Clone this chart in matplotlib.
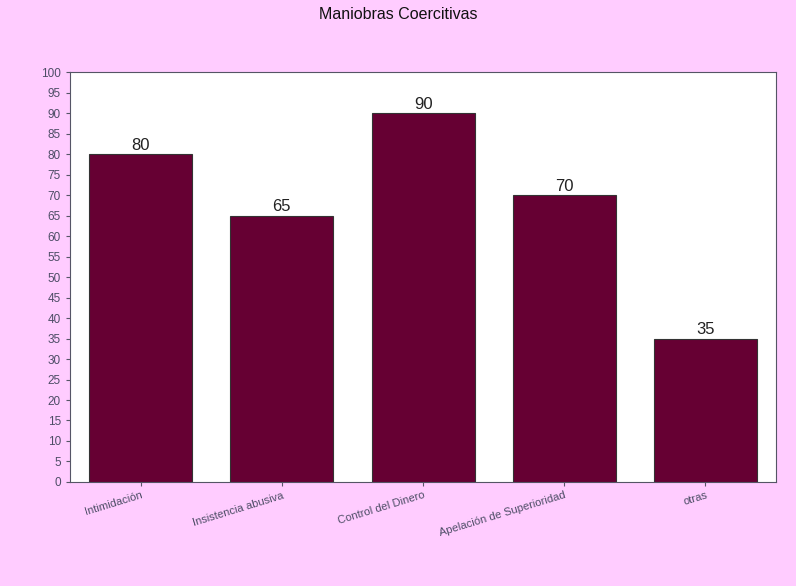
import matplotlib
matplotlib.use("Agg")
import matplotlib.pyplot as plt

categories = ["Intimidación", "Insistencia abusiva", "Control del Dinero",
              "Apelación de Superioridad", "otras"]
values = [80, 65, 90, 70, 35]
yticks = list(range(0, 101, 5))

plt.rcParams['font.family'] = ['Liberation Sans', 'DejaVu Sans']

bg = "#FFCCFF"
fig = plt.figure(figsize=(7.96, 5.86), dpi=100, facecolor=bg)
ax = fig.add_axes([0.088, 0.1775, 0.887, 0.6995])
ax.set_facecolor("white")

x = list(range(len(categories)))
bars = ax.bar(x, values, width=0.73, color="#660033", edgecolor="#333333", linewidth=0.8)
for xi, v in zip(x, values):
    ax.text(xi, v + 0.3, str(v), ha="center", va="bottom", fontsize=12, color="#222222")

ax.set_xlim(-0.5, 4.5)
ax.set_ylim(0, 100)
ax.set_yticks(yticks)
ax.set_xticks(x)
ax.set_xticklabels(categories, rotation=17, ha="right", rotation_mode="anchor",
                   fontsize=8, color="#4d4d66")
ax.tick_params(axis="y", labelsize=8.5, labelcolor="#4d4d66", length=3, color="#555566")
ax.tick_params(axis="x", length=3, color="#555566", pad=3)
for s in ax.spines.values():
    s.set_color("#555566")
    s.set_linewidth(0.8)

fig.text(0.5, 0.975, "Maniobras Coercitivas", ha="center", va="center",
         fontsize=11.5, color="#111111")

fig.savefig("out.png", dpi=100, facecolor=bg)
